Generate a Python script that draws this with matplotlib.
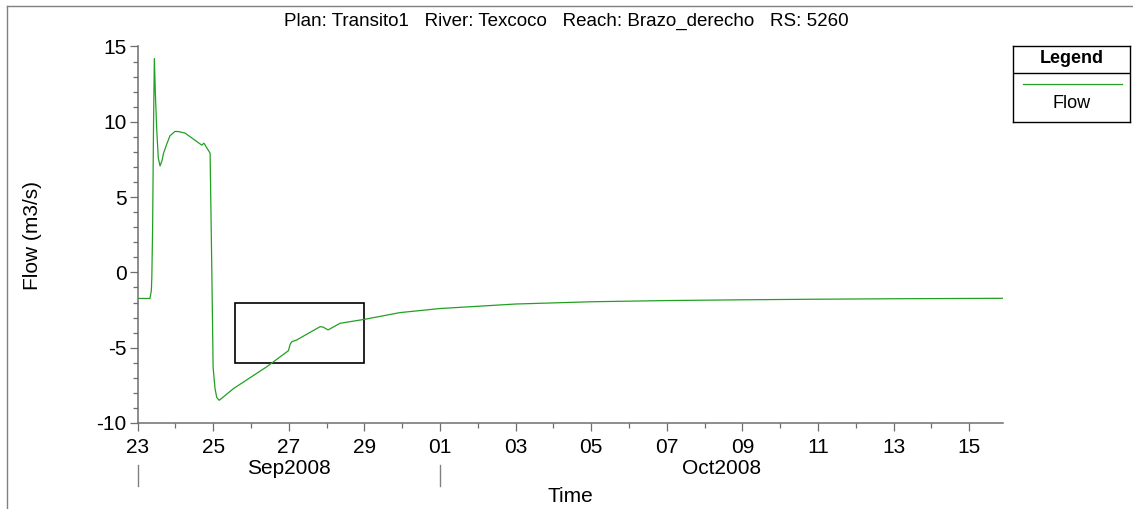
import pandas as pd
import matplotlib
matplotlib.use('Agg')
import matplotlib.pyplot as plt
import matplotlib.dates as mdates
from matplotlib.patches import Rectangle
from matplotlib.lines import Line2D
from matplotlib.transforms import blended_transform_factory

plt.rcParams['font.family'] = ['Liberation Sans', 'DejaVu Sans']
plt.rcParams['axes.unicode_minus'] = False

# Flow hydrograph at RS 5260 (hours after 23 Sep 2008 00:00)
start = pd.Timestamp('2008-09-23 00:00')
hours = [0, 7.9, 8.8, 9.1, 9.6, 10.2, 10.7, 11.3, 12.2, 13.2, 14.3, 15.5, 16.5,
         17.5, 18.5, 20.6, 23.8, 26.0, 30.2, 35.5, 40.8, 42.2, 43.9, 45.6, 46.1,
         46.5, 47.2, 48.0, 49.2, 50.3, 51.8, 53.0, 61.0, 82.0, 95.8, 97.0, 98.0,
         101.0, 116.0, 118.0, 121.0, 128.6, 144.5, 166.6, 192.0, 240.0, 288.0,
         336.0, 384.0, 432.0, 480.0, 549.5]
flow = [-1.73, -1.73, -1.2, -0.3, 3.0, 10.0, 14.2, 12.0, 9.5, 7.6, 7.07, 7.4, 7.9,
        8.2, 8.5, 9.07, 9.36, 9.35, 9.25, 8.85, 8.45, 8.58, 8.29, 8.0, 7.9,
        5.0, 0.0, -6.3, -7.7, -8.3, -8.49, -8.4, -7.71, -6.27, -5.2, -4.75, -4.6,
        -4.49, -3.6, -3.64, -3.82, -3.38, -3.11, -2.67, -2.4, -2.1, -1.95,
        -1.87, -1.82, -1.78, -1.75, -1.72]

times = [start + pd.Timedelta(hours=h) for h in hours]
x_end = start + pd.Timedelta(hours=549.5)

# highlighted window
box_t0 = pd.Timestamp('2008-09-25 14:00')
box_t1 = pd.Timestamp('2008-09-29 00:00')
box_lo, box_hi = -6, -2

month_labels = ['Sep2008', 'Oct2008']
month_starts = [pd.Timestamp('2008-09-23'), pd.Timestamp('2008-10-01')]

spine_col = '#6e6e6e'
fig = plt.figure(figsize=(11.33, 5.09), dpi=100)
ax = fig.add_axes([0.12136, 0.16896, 0.7639, 0.7397])

ax.plot(times, flow, color='#22a022', lw=0.9)
ax.add_patch(Rectangle((mdates.date2num(box_t0), box_lo),
                       mdates.date2num(box_t1) - mdates.date2num(box_t0),
                       box_hi - box_lo, fill=False, ec='black', lw=1.2))

ax.set_xlim(start, x_end)
ax.set_ylim(-10, 15)
ax.set_yticks([-10, -5, 0, 5, 10, 15])
ax.yaxis.set_minor_locator(matplotlib.ticker.MultipleLocator(1))
ax.xaxis.set_major_locator(mdates.DayLocator(bymonthday=[1, 3, 5, 7, 9, 11, 13, 15, 23, 25, 27, 29]))
ax.xaxis.set_minor_locator(mdates.DayLocator())
ax.xaxis.set_major_formatter(mdates.DateFormatter('%d'))

for s in ['top', 'right']:
    ax.spines[s].set_visible(False)
for s in ['left', 'bottom']:
    ax.spines[s].set_color(spine_col)
    ax.spines[s].set_linewidth(1.1)

ax.tick_params(which='major', direction='out', length=5.5, width=0.9,
               color=spine_col, labelsize=15, pad=2.5)
ax.tick_params(axis='x', which='major', pad=5.5)
ax.tick_params(which='minor', direction='out', length=3.8, width=0.9, color=spine_col)

# month captions and separators under the day labels
trans = blended_transform_factory(ax.transData, fig.transFigure)
month_edges = month_starts + [x_end]
for i, lab in enumerate(month_labels):
    a = mdates.date2num(month_edges[i])
    b = mdates.date2num(month_edges[i + 1])
    ax.text((a + b) / 2, 0.069, lab, transform=trans, ha='center', va='baseline', fontsize=15)
for d in month_starts:
    ax.plot([d, d], [0.0865, 0.0452], transform=trans, color='#808080', lw=1.0, clip_on=False)

fig.text(0.5031, 0.0138, 'Time', ha='center', va='baseline', fontsize=15)
fig.text(0.029, 0.538, 'Flow (m3/s)', rotation=90, ha='center', va='center', fontsize=15)
fig.text(0.5, 0.957, 'Plan: Transito1   River: Texcoco   Reach: Brazo_derecho   RS: 5260',
         ha='center', va='center', fontsize=13.5)

# outer frame edges (top and left)
fig.add_artist(Line2D([7 / 1133, 1], [1 - 6 / 509, 1 - 6 / 509], transform=fig.transFigure,
                      color='#808080', lw=1.0))
fig.add_artist(Line2D([7 / 1133, 7 / 1133], [0, 1 - 6 / 509], transform=fig.transFigure,
                      color='#808080', lw=1.0))

# legend box
lax = fig.add_axes([1013 / 1133, 1 - 122 / 509, 117 / 1133, 76 / 509])
lax.set_xlim(0, 1)
lax.set_ylim(0, 1)
lax.set_xticks([])
lax.set_yticks([])
for s in lax.spines.values():
    s.set_color('black')
    s.set_linewidth(1.0)
lax.axhline(0.645, color='black', lw=1.0)
lax.plot([0.083, 0.93], [0.5, 0.5], color='#22a022', lw=0.9)
lax.text(0.5, 0.835, 'Legend', ha='center', va='center', fontsize=13, fontweight='bold')
lax.text(0.5, 0.25, 'Flow', ha='center', va='center', fontsize=13)

fig.savefig('out.png', dpi=100)
